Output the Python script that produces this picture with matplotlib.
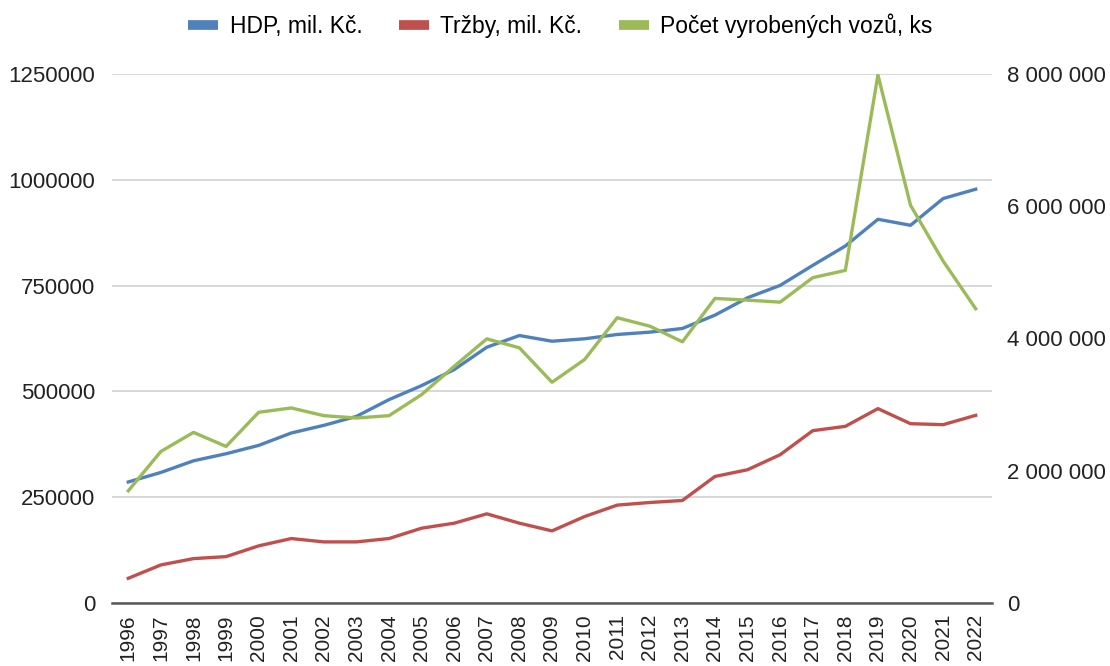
import matplotlib
matplotlib.use("Agg")
import matplotlib.pyplot as plt
from matplotlib.lines import Line2D
from matplotlib.ticker import FuncFormatter

plt.rcParams['font.family'] = ['Liberation Sans', 'DejaVu Sans']

years = [str(y) for y in range(1996, 2023)]

# HDP, mil. Kč.
hdp = [286000, 308500, 336000, 352700, 372400, 401700, 419800, 441000, 480600,
       513700, 551600, 604400, 632000, 618600, 624300, 634500, 640000, 648700,
       680200, 721300, 750500, 797800, 843600, 906700, 892500, 955700, 977800]

# Tržby, mil. Kč.
trzby = [58400, 90000, 104900, 109600, 135000, 152300, 144400, 144400, 152300,
         176800, 188600, 210700, 188600, 170400, 204300, 231300, 237500, 242200,
         299000, 314900, 350400, 407200, 417400, 459300, 423700, 421400, 443400]

# Počet vyrobených vozů, ks (right axis)
vozy = [1697000, 2292000, 2580000, 2368000, 2884000, 2950000, 2833000, 2798000,
        2833000, 3152000, 3580000, 3995000, 3859000, 3338000, 3682000, 4314000,
        4187000, 3950000, 4606000, 4580000, 4550000, 4920000, 5030000, 7985000,
        6015000, 5171000, 4450000]

labels = ["HDP, mil. Kč.", "Tržby, mil. Kč.", "Počet vyrobených vozů, ks"]
colors = ["#4F81BD", "#C0504D", "#9BBB59"]

fig = plt.figure(figsize=(11.1, 6.66), dpi=100)
ax = fig.add_axes([112 / 1110, 1 - 603 / 666, 880 / 1110, 529 / 666])
ax2 = ax.twinx()

x = list(range(len(years)))
ax.plot(x, hdp, color=colors[0], lw=2.4, zorder=3)
ax.plot(x, trzby, color=colors[1], lw=2.4, zorder=3)
ax2.plot(x, vozy, color=colors[2], lw=2.4, zorder=3)

ax.set_xlim(-0.5, len(years) - 0.5)
ax.set_ylim(0, 1250000)
ax2.set_ylim(0, 8000000)
ax.set_yticks([0, 250000, 500000, 750000, 1000000, 1250000])
ax.yaxis.set_major_formatter(FuncFormatter(lambda v, p: f"{v:.0f}"))
ax2.set_yticks([0, 2000000, 4000000, 6000000, 8000000])
ax2.yaxis.set_major_formatter(FuncFormatter(lambda v, p: f"{v:,.0f}".replace(",", " ")))

ax.set_xticks(x)
ax.set_xticklabels(years, rotation=90, fontsize=15)
ax.tick_params(axis='x', length=0, pad=8)
ax.tick_params(axis='y', length=0, pad=12, labelsize=16)
ax2.tick_params(axis='y', length=0, pad=11, labelsize=16)
for t in ax.get_yticklabels() + ax2.get_yticklabels() + ax.get_xticklabels():
    t.set_color("#222222")

ax.yaxis.grid(True, color="#D4D4D4", lw=1.3)
ax.set_axisbelow(True)
for a in (ax, ax2):
    for s in ("top", "left", "right", "bottom"):
        a.spines[s].set_visible(False)
ax.spines["bottom"].set_visible(True)
ax.spines["bottom"].set_color("#595959")
ax.spines["bottom"].set_linewidth(1.8)

handles = [Line2D([0], [0], color=c, lw=7, solid_capstyle="butt") for c in colors]
fig.legend(handles, labels, loc="center", bbox_to_anchor=(0.505, 1 - 26 / 666),
           ncol=3, frameon=False, fontsize=16.5, handlelength=1.3,
           handletextpad=0.5, columnspacing=1.6)

fig.savefig("out.png", dpi=100)
